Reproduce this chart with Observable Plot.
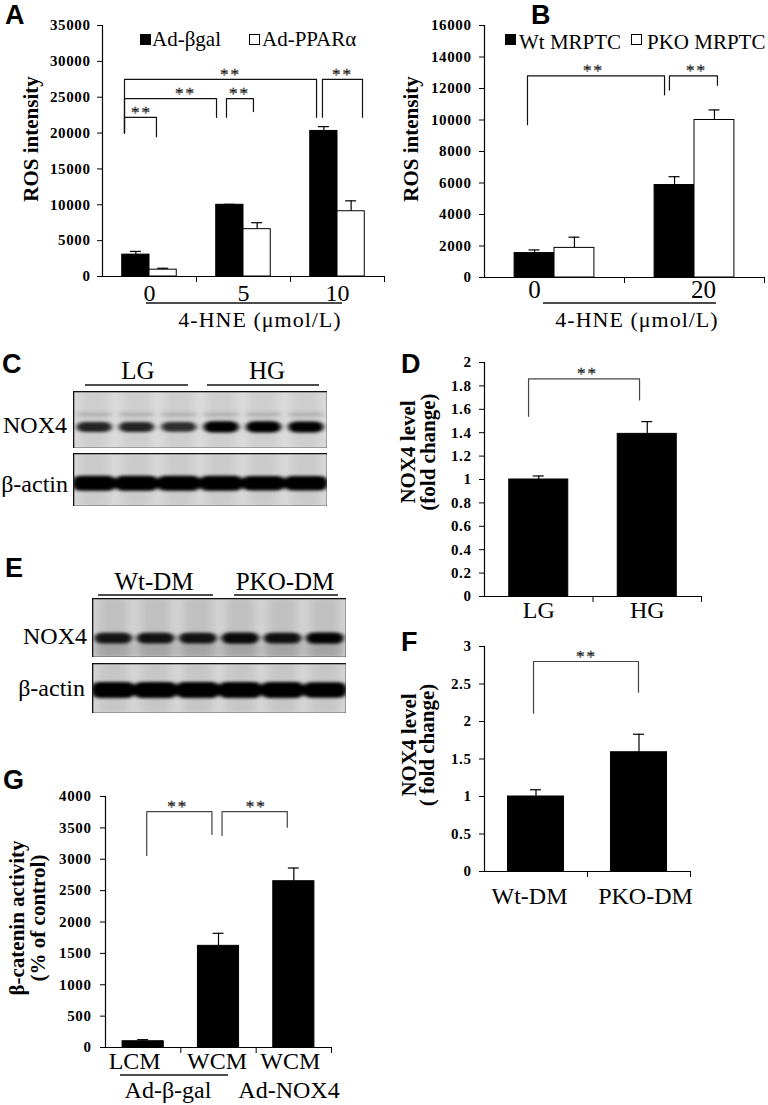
<!DOCTYPE html>
<html>
<head>
<meta charset="utf-8">
<script src="https://cdn.jsdelivr.net/npm/d3@7"></script>
<script src="https://cdn.jsdelivr.net/npm/@observablehq/plot@0.6"></script>
<style>
html, body { margin: 0; padding: 0; background: #fff; overflow: hidden; }
#fig { position: relative; width: 768px; height: 1105px; background: #fff; font-family: "Liberation Serif", serif; }
.panel { position: absolute; }
</style>
</head>
<body>
<div id="fig"></div>
<script>
// ======================= DATA =======================
// Panel A: ROS intensity vs 4-HNE (µmol/L)
const aDoseLabels = ["0", "5", "10"];
const aLabelPos = [0, 1, 2];
const aBetaGal = [3050, 10000, 20300];
const aBetaGalErr = [450, 60, 600];
const aPPARa = [950, 6600, 9100];
const aPPARaErr = [200, 900, 1450];
const aYTicks = [0, 5000, 10000, 15000, 20000, 25000, 30000, 35000];
const aLegend = ["Ad-βgal", "Ad-PPARα"];
const aBrackets = [
  {x1: -0.266, y1: 20000, x2: 0.074, y2: 19500, top: 22200, star: -0.085},
  {x1: -0.266, y1: 20000, x2: 0.713, y2: 22200, top: 24800, star: 0.383},
  {x1: -0.266, y1: 20000, x2: 1.777, y2: 22200, top: 27500, star: 0.862},
  {x1: 0.819, y1: 22200, x2: 1.106, y2: 23000, top: 24800, star: 0.957},
  {x1: 1.840, y1: 22200, x2: 2.266, y2: 22200, top: 27500, star: 2.053}
];

// Panel B
const bDoseLabels = ["0", "20"];
const bLabelPos = [-0.143, 1.064];
const bWt = [1550, 5870];
const bWtErr = [200, 530];
const bPKO = [1880, 10000];
const bPKOErr = [680, 640];
const bYTicks = [0, 2000, 4000, 6000, 8000, 10000, 12000, 14000, 16000];
const bLegend = ["Wt MRPTC", "PKO MRPTC"];
const bBrackets = [
  {x1: -0.193, y1: 9700, x2: 0.786, y2: 11600, top: 12800, star: 0.279},
  {x1: 0.821, y1: 11900, x2: 1.164, y2: 12200, top: 12800, star: 1.014}
];

const doseTitle = "4-HNE (μmol/L)";
const yTitleROS = "ROS intensity";

// Panel C / E blots (relative band darkness per lane)
const cGroups = ["LG", "HG"];
const eGroups = ["Wt-DM", "PKO-DM"];
const blotRows = ["NOX4", "β-actin"];
const cNox4Band = [0.72, 0.72, 0.66, 0.95, 0.95, 0.93];
const cActinBand = [1, 1, 1, 1, 0.96, 0.97];
const eNox4Band = [0.8, 0.82, 0.82, 0.88, 0.84, 0.92];
const eActinBand = [1, 1, 1, 1, 0.97, 0.95];

// Panel D
const dGroups = ["LG", "HG"];
const dLabelPos = [0, 1];
const dValues = [1.0, 1.39];
const dErr = [0.03, 0.105];
const dYTicks = [0, 0.2, 0.4, 0.6, 0.8, 1, 1.2, 1.4, 1.6, 1.8, 2];
const dBrackets = [{x1: -0.094, y1: 1.54, x2: 0.929, y2: 1.68, top: 1.86, star: 0.449}];

// Panel F
const fGroups = ["Wt-DM", "PKO-DM"];
const fLabelPos = [-0.063, 1.063];
const fValues = [1.0, 1.59];
const fErr = [0.09, 0.24];
const fYTicks = [0, 0.5, 1, 1.5, 2, 2.5, 3];
const fBrackets = [{x1: -0.024, y1: 2.11, x2: 0.995, y2: 2.39, top: 2.8, star: 0.49}];

// Panel G
const gGroups = ["LCM", "WCM", "WCM"];
const gLabelPos = [-0.113, 0.98, 1.953];
const gValues = [100, 1620, 2650];
const gErr = [25, 200, 210];
const gYTicks = [0, 500, 1000, 1500, 2000, 2500, 3000, 3500, 4000];
const gBrackets = [
  {x1: 0.047, y1: 3060, x2: 0.913, y2: 3395, top: 3760, star: 0.46},
  {x1: 1.047, y1: 3380, x2: 1.913, y2: 3510, top: 3760, star: 1.5}
];
const gTreatments = ["Ad-β-gal", "Ad-NOX4"];

// ======================= DRAWING =======================
const SERIF = "'Liberation Serif', 'Times New Roman', serif";
const SANS = "'Liberation Sans', Arial, sans-serif";
const fig = document.getElementById("fig");

// shared filter defs
const defs = d3.select(fig).append("svg").attr("width", 0).attr("height", 0)
  .style("position", "absolute").append("defs");
defs.append("filter").attr("id", "bandBlur")
  .attr("x", "-30%").attr("y", "-150%").attr("width", "160%").attr("height", "400%")
  .append("feGaussianBlur").attr("stdDeviation", "2.8 1.6");
defs.append("filter").attr("id", "laneBlur")
  .attr("x", "-30%").attr("y", "-30%").attr("width", "160%").attr("height", "160%")
  .append("feGaussianBlur").attr("stdDeviation", "5 2");

function place(el, left, top, w, h) {
  const div = document.createElement("div");
  div.className = "panel";
  div.style.left = left + "px";
  div.style.top = top + "px";
  div.style.width = w + "px";
  div.style.height = h + "px";
  div.appendChild(el);
  fig.appendChild(div);
}

function barPanel(cfg) {
  const {box, m, xDomain, yMax, yTicks, bars, brackets, labels, labelPos, labelSize,
         labelPad, boundaries, tickPad, bracketColor} = cfg;
  const unit = (box.w - m.l - m.r) / (xDomain[1] - xDomain[0]);
  const cap = 5.5 / unit;
  const pts = brackets.flatMap((b, i) => [
    {id: i, x: b.x1, y: b.y1}, {id: i, x: b.x1, y: b.top},
    {id: i, x: b.x2, y: b.top}, {id: i, x: b.x2, y: b.y2}
  ]);
  const mid = d => (d.x1 + d.x2) / 2;
  const svg = Plot.plot({
    width: box.w, height: box.h,
    marginLeft: m.l, marginRight: m.r, marginTop: m.t, marginBottom: m.b,
    x: {domain: xDomain},
    y: {domain: [0, yMax]},
    color: {type: "identity"},
    style: {fontFamily: SERIF, fontSize: "15px", fontWeight: "bold",
            background: "transparent", overflow: "visible", color: "#000"},
    marks: [
      Plot.rect(bars, {x1: "x1", x2: "x2", y1: 0, y2: "v", fill: "fill", stroke: "#000", strokeWidth: 1}),
      Plot.ruleX(bars, {x: mid, y1: "v", y2: d => d.v + d.e, stroke: "#000", strokeWidth: 1.2}),
      Plot.ruleY(bars, {y: d => d.v + d.e, x1: d => mid(d) - cap, x2: d => mid(d) + cap, stroke: "#000", strokeWidth: 1.2}),
      Plot.ruleX([xDomain[0]], {y1: 0, y2: yMax, stroke: "#000", strokeWidth: 1.2}),
      Plot.ruleY([0], {stroke: "#000", strokeWidth: 1.2}),
      Plot.axisY(yTicks, {tickSize: 5, tickPadding: tickPad, tickFormat: d => String(d), label: null, fontSize: 15}),
      Plot.axisX(boundaries, {tickSize: 6, tickFormat: () => "", label: null}),
      Plot.text(labels.map((t, i) => ({t, x: labelPos[i]})),
        {x: "x", text: "t", frameAnchor: "bottom", lineAnchor: "top", dy: labelPad,
         fontSize: labelSize, fontWeight: "normal"}),
      Plot.line(pts, {x: "x", y: "y", z: "id", stroke: bracketColor, strokeWidth: 1.2}),
      Plot.text(brackets, {x: "star", y: "top", text: () => "**", dy: -5, fontSize: 17,
         fontWeight: "normal", stroke: "#000", strokeWidth: 0.5})
    ]
  });
  svg.querySelectorAll('g[aria-label="y-axis tick label"] text').forEach(t => t.style.letterSpacing = "0.6px");
  svg.querySelectorAll('g[aria-label="text"] text').forEach(t => {
    if (t.textContent === "**") t.style.letterSpacing = "2px";
  });
  place(svg, box.x, box.y, box.w, box.h);
}

// ---- Panel A
barPanel({
  box: {x: 0, y: 0, w: 386, h: 300}, m: {l: 102, r: 2, t: 25, b: 24},
  xDomain: [-0.5, 2.5], yMax: 35000, yTicks: aYTicks,
  bars: aDoseLabels.flatMap((_, i) => [
    {x1: i - 0.29, x2: i, v: aBetaGal[i], e: aBetaGalErr[i], fill: "black"},
    {x1: i, x2: i + 0.29, v: aPPARa[i], e: aPPARaErr[i], fill: "white"}
  ]),
  brackets: aBrackets, labels: aDoseLabels, labelPos: aLabelPos, labelSize: 24, labelPad: 7,
  boundaries: [0.5, 1.5, 2.5], tickPad: 7, bracketColor: "#111"
});

// ---- Panel B
barPanel({
  box: {x: 386, y: 0, w: 382, h: 300}, m: {l: 98, r: 4, t: 25, b: 23},
  xDomain: [-0.5, 1.5], yMax: 16000, yTicks: bYTicks,
  bars: bDoseLabels.flatMap((_, i) => [
    {x1: i - 0.285, x2: i, v: bWt[i], e: bWtErr[i], fill: "black"},
    {x1: i, x2: i + 0.285, v: bPKO[i], e: bPKOErr[i], fill: "white"}
  ]),
  brackets: bBrackets, labels: bDoseLabels, labelPos: bLabelPos, labelSize: 25, labelPad: 3,
  boundaries: [0.5, 1.5], tickPad: 8, bracketColor: "#111"
});

// ---- Panel D
barPanel({
  box: {x: 384, y: 340, w: 384, h: 290}, m: {l: 100, r: 67, t: 22, b: 34},
  xDomain: [-0.5, 1.5], yMax: 2, yTicks: dYTicks,
  bars: dGroups.map((_, i) => ({x1: i - 0.272, x2: i + 0.272, v: dValues[i], e: dErr[i], fill: "black"})),
  brackets: dBrackets, labels: dGroups, labelPos: dLabelPos, labelSize: 24, labelPad: 4,
  boundaries: [0.5, 1.5], tickPad: 8, bracketColor: "#444"
});

// ---- Panel F
barPanel({
  box: {x: 384, y: 630, w: 384, h: 280}, m: {l: 100, r: 78, t: 16, b: 39},
  xDomain: [-0.5, 1.5], yMax: 3, yTicks: fYTicks,
  bars: fGroups.map((_, i) => ({x1: i - 0.272, x2: i + 0.272, v: fValues[i], e: fErr[i], fill: "black"})),
  brackets: fBrackets, labels: fGroups, labelPos: fLabelPos, labelSize: 24, labelPad: 15,
  boundaries: [0.5, 1.5], tickPad: 8, bracketColor: "#444"
});

// ---- Panel G
barPanel({
  box: {x: 0, y: 770, w: 384, h: 300}, m: {l: 105, r: 53, t: 26, b: 23},
  xDomain: [-0.5, 2.5], yMax: 4000, yTicks: gYTicks,
  bars: gGroups.map((_, i) => ({x1: i - 0.273, x2: i + 0.273, v: gValues[i], e: gErr[i], fill: "black"})),
  brackets: gBrackets, labels: gGroups, labelPos: gLabelPos, labelSize: 24, labelPad: 4,
  boundaries: [0.5, 1.5, 2.5], tickPad: 9, bracketColor: "#444"
});

// ---- Blots
const BAND = "#050505", FAINT = "#454545", HAZE = "#8a8a8a";
function blot(box, bands, o) {
  const rows = bands.map((v, lane) => ({lane, v}));
  const marks = [
    Plot.rect(rows, {x1: d => d.lane + 0.16, x2: d => d.lane + 0.84, y1: 0, y2: 1, fill: o.laneFill})
  ];
  if (o.haze) marks.push(Plot.rect(rows, {x1: d => d.lane + 0.05, x2: d => d.lane + 0.95,
      y1: o.haze[0], y2: o.haze[1], fill: HAZE, fillOpacity: o.haze[2]}));
  if (o.faint) marks.push(Plot.rect(rows, {x1: d => d.lane + o.inset, x2: d => d.lane + 1 - o.inset,
      y1: o.faint[0], y2: o.faint[1], fill: FAINT, fillOpacity: o.faint[2]}));
  marks.push(Plot.rect(rows, {x1: d => d.lane + o.inset, x2: d => d.lane + 1 - o.inset,
      y1: d => o.center - o.half * (0.55 + 0.45 * d.v), y2: d => o.center + o.half * (0.55 + 0.45 * d.v),
      fill: BAND, fillOpacity: d => Math.min(1, 0.25 + 0.8 * d.v), rx: 8}));
  marks.push(Plot.frame({stroke: "#111", strokeWidth: 1.6}));
  const svg = Plot.plot({
    width: box.w, height: box.h, margin: 0,
    x: {domain: [0, 6], axis: null}, y: {domain: [0, 1], axis: null},
    opacity: {type: "identity"},
    style: {background: o.bg, overflow: "hidden"},
    marks
  });
  svg.querySelectorAll("g").forEach(g => {
    const f = (g.getAttribute("fill") || "").toLowerCase();
    if (f === BAND || f === FAINT) g.setAttribute("filter", "url(#bandBlur)");
    else if (f === o.laneFill || f === HAZE) g.setAttribute("filter", "url(#laneBlur)");
  });
  place(svg, box.x, box.y, box.w, box.h);
}

blot({x: 73, y: 391, w: 254, h: 57}, cNox4Band,
  {bg: "#dcdcdc", laneFill: "#cecece", center: 0.37, half: 0.1, inset: 0.08, faint: [0.55, 0.63, 0.2]});
blot({x: 73, y: 453, w: 254, h: 53}, cActinBand,
  {bg: "#d9d9d9", laneFill: "#cbcbcb", center: 0.43, half: 0.14, inset: -0.03});
blot({x: 92, y: 598, w: 254, h: 59}, eNox4Band,
  {bg: "#d4d4d4", laneFill: "#c0c0c0", center: 0.32, half: 0.1, inset: 0.05, haze: [0, 0.25, 0.5]});
blot({x: 92, y: 663, w: 254, h: 50}, eActinBand,
  {bg: "#d6d6d6", laneFill: "#c6c6c6", center: 0.46, half: 0.16, inset: -0.03});

// ---- Text overlay
const ov = d3.select(fig).append("svg")
  .attr("width", 768).attr("height", 1105)
  .style("position", "absolute").style("left", 0).style("top", 0)
  .style("pointer-events", "none");

function addText(s, x, y, o = {}) {
  const el = ov.append("text").text(s)
    .attr("font-family", o.family || SERIF)
    .attr("font-size", o.size || 20)
    .attr("font-weight", o.weight || "normal")
    .attr("text-anchor", o.anchor || "start")
    .attr("fill", "#000");
  if (o.rot) el.attr("transform", `translate(${x},${y}) rotate(${o.rot})`);
  else el.attr("x", x).attr("y", y);
  if (o.spacing) el.style("letter-spacing", o.spacing + "px");
}
function addLine(x1, x2, y, w = 1.6, c = "#111") {
  ov.append("line").attr("x1", x1).attr("x2", x2).attr("y1", y).attr("y2", y)
    .attr("stroke", c).attr("stroke-width", w);
}
function swatch(x, y, fill) {
  ov.append("rect").attr("x", x + 0.5).attr("y", y + 0.5).attr("width", 10).attr("height", 10)
    .attr("fill", fill).attr("stroke", "#000").attr("stroke-width", 1);
}

// Panel letters
const letterFont = {family: SANS, size: 26, weight: "bold"};
[["A", 5, 24], ["B", 531, 24], ["C", 2, 373], ["D", 401, 373],
 ["E", 5, 577], ["F", 401, 651], ["G", 3, 789]].forEach(([s, x, y]) => addText(s, x, y, {...letterFont, size: 27}));

// Y titles
const yt = {size: 21, weight: "bold", anchor: "middle", rot: -90};
addText(yTitleROS, 38, 139, yt);
addText(yTitleROS, 418, 139, yt);
addText("NOX4 level", 415, 452, yt);
addText("(fold change)", 435, 452, yt);
addText("NOX4 level", 416, 745, yt);
addText("( fold change)", 434, 745, yt);
addText("β-catenin activity", 24, 918, yt);
addText("(% of control)", 45, 918, yt);

// Legends
swatch(140, 34, "#000"); addText(aLegend[0], 152, 46, {size: 21});
swatch(249, 34, "#fff"); addText(aLegend[1], 262, 46, {size: 21});
swatch(505, 34, "#000"); addText(bLegend[0], 519, 48.5, {size: 21});
swatch(631, 34, "#fff"); addText(bLegend[1], 647, 48.5, {size: 21});

// 4-HNE titles
addLine(146, 342, 303);
addText(doseTitle, 260, 327, {size: 22, anchor: "middle", spacing: 1});
addLine(543, 716, 303);
addText(doseTitle, 637, 327, {size: 22, anchor: "middle", spacing: 1});

// Blot C labels
addText(cGroups[0], 138, 379, {size: 25, anchor: "middle"});
addText(cGroups[1], 267, 379, {size: 25, anchor: "middle"});
addLine(85, 188, 385);
addLine(207, 319, 385);
addText(blotRows[0], 67, 433, {size: 24, anchor: "end"});
addText(blotRows[1], 68, 492, {size: 24, anchor: "end"});

// Blot E labels
addText(eGroups[0], 154, 590, {size: 25, anchor: "middle"});
addText(eGroups[1], 285, 590, {size: 25, anchor: "middle"});
addLine(98, 213, 595);
addLine(234, 338, 595);
addText(blotRows[0], 87, 644, {size: 24, anchor: "end"});
addText(blotRows[1], 85, 696, {size: 24, anchor: "end"});

// Panel G treatments
addLine(120, 228, 1075);
addText(gTreatments[0], 168, 1098, {size: 24, anchor: "middle"});
addText(gTreatments[1], 289, 1098, {size: 24, anchor: "middle"});
</script>
</body>
</html>
